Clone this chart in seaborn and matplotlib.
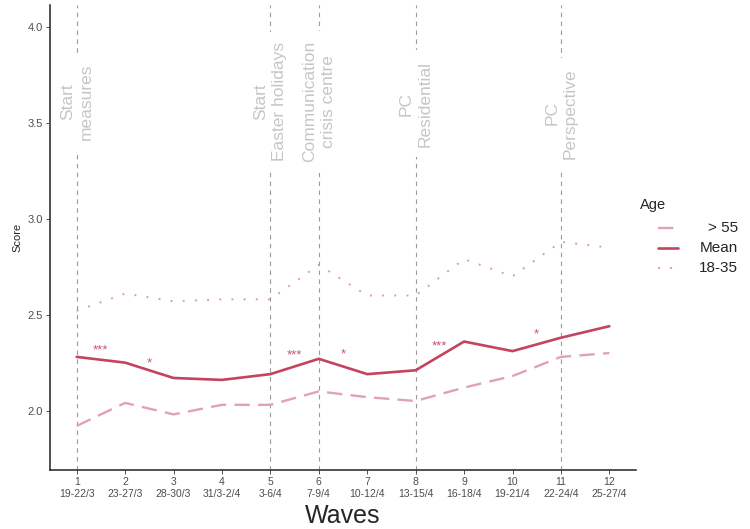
import numpy as np
import pandas as pd
import seaborn as sns
import matplotlib.pyplot as plt
from matplotlib.lines import Line2D

# Data
waves = list(range(1, 13))
wave_dates = ["19-22/3", "23-27/3", "28-30/3", "31/3-2/4", "3-6/4", "7-9/4",
              "10-12/4", "13-15/4", "16-18/4", "19-21/4", "22-24/4", "25-27/4"]
score_old = [1.92, 2.04, 1.98, 2.03, 2.03, 2.10, 2.07, 2.05, 2.12, 2.18, 2.28, 2.30]
score_mean = [2.28, 2.25, 2.17, 2.16, 2.19, 2.27, 2.19, 2.21, 2.36, 2.31, 2.38, 2.44]
score_young = [2.52, 2.61, 2.57, 2.58, 2.58, 2.76, 2.60, 2.60, 2.79, 2.70, 2.88, 2.85]
age_groups = ["> 55", "Mean", "18-35"]

event_waves = [1, 5, 6, 8, 11]
event_labels = ["Start\nmeasures", "Start\nEaster holidays", "Communication\ncrisis centre",
                "PC\nResidential", "PC\nPerspective"]
event_y = [3.61, 3.61, 3.61, 3.60, 3.55]

sig_x = [1.5, 2.5, 5.5, 6.5, 8.5, 10.5]
sig_y = [2.335, 2.27, 2.31, 2.314, 2.357, 2.42]
sig_labels = ["***", "*", "***", "*", "***", "*"]

df = pd.DataFrame({
    "Wave": waves * 3,
    "Score": score_old + score_mean + score_young,
    "Age": [g for g in age_groups for _ in waves],
})

colors = {"> 55": "#E2A2B2", "Mean": "#C4435F", "18-35": "#DA95A6"}
dashes = {"> 55": (6.5, 3.5), "Mean": "", "18-35": (1, 5.5)}
widths = {"> 55": 1.7, "Mean": 1.9, "18-35": 1.35}

sns.set_style("white")
plt.rcParams["font.family"] = ["Liberation Sans", "DejaVu Sans"]

fig = plt.figure(figsize=(7.5, 5.29), dpi=100)
ax = fig.add_axes([0.0667, 0.1115, 0.848 - 0.0667, 0.9905 - 0.1115])

# event lines and labels
for w, lab, y in zip(event_waves, event_labels, event_y):
    ax.axvline(w, color="#9A9A9A", lw=0.8, ls=(0, (4, 4)), zorder=1)
    ax.text(w, y, lab, rotation=90, ha="center", va="center", multialignment="center",
            fontsize=12.5, color="#C6C6C6", linespacing=1.3, zorder=2,
            bbox=dict(boxstyle="square,pad=0.6", facecolor="white", edgecolor="none"))

sns.lineplot(data=df, x="Wave", y="Score", hue="Age", style="Age", size="Age",
             palette=colors, dashes=dashes, sizes=widths, hue_order=age_groups,
             ax=ax, legend=False, zorder=3)

for x, y, s in zip(sig_x, sig_y, sig_labels):
    ax.annotate(s, (x, y), xytext=(0, -5.2), textcoords="offset points",
                ha="center", va="baseline", fontsize=9.5, color="#C85474", zorder=4)

ax.set_xlim(0.45, 12.55)
ax.set_ylim(1.69, 4.115)
ax.set_xticks(waves)
ax.set_xticklabels([f"{w}\n{d}" for w, d in zip(waves, wave_dates)], fontsize=7.5, color="#4D4D4D")
ax.set_yticks([2.0, 2.5, 3.0, 3.5, 4.0])
ax.set_yticklabels(["2.0", "2.5", "3.0", "3.5", "4.0"], fontsize=8, color="#4D4D4D")
ax.tick_params(axis="both", length=3, width=0.6, color="#333333", pad=2, bottom=True, left=True)
ax.set_xlabel("Waves", fontsize=18, labelpad=4)
ax.set_ylabel("Score", fontsize=8, labelpad=4)
sns.despine(ax=ax)
for side in ["left", "bottom"]:
    ax.spines[side].set_color("#222222")
    ax.spines[side].set_linewidth(1.1)

# legend drawn by hand so labels can be right aligned
fig.text(640 / 750, 1 - 205 / 529, "Age", fontsize=10.5, ha="left", va="center")
for i, g in enumerate(age_groups):
    yy = 1 - (228 + 20 * i) / 529
    fig.add_artist(Line2D([658 / 750, 678 / 750], [yy, yy], transform=fig.transFigure,
                          color=colors[g], lw=widths[g],
                          ls="-" if dashes[g] == "" else (0, dashes[g])))
    fig.text(738 / 750, yy, g, fontsize=11, ha="right", va="center")

fig.savefig("out.png", dpi=100)
